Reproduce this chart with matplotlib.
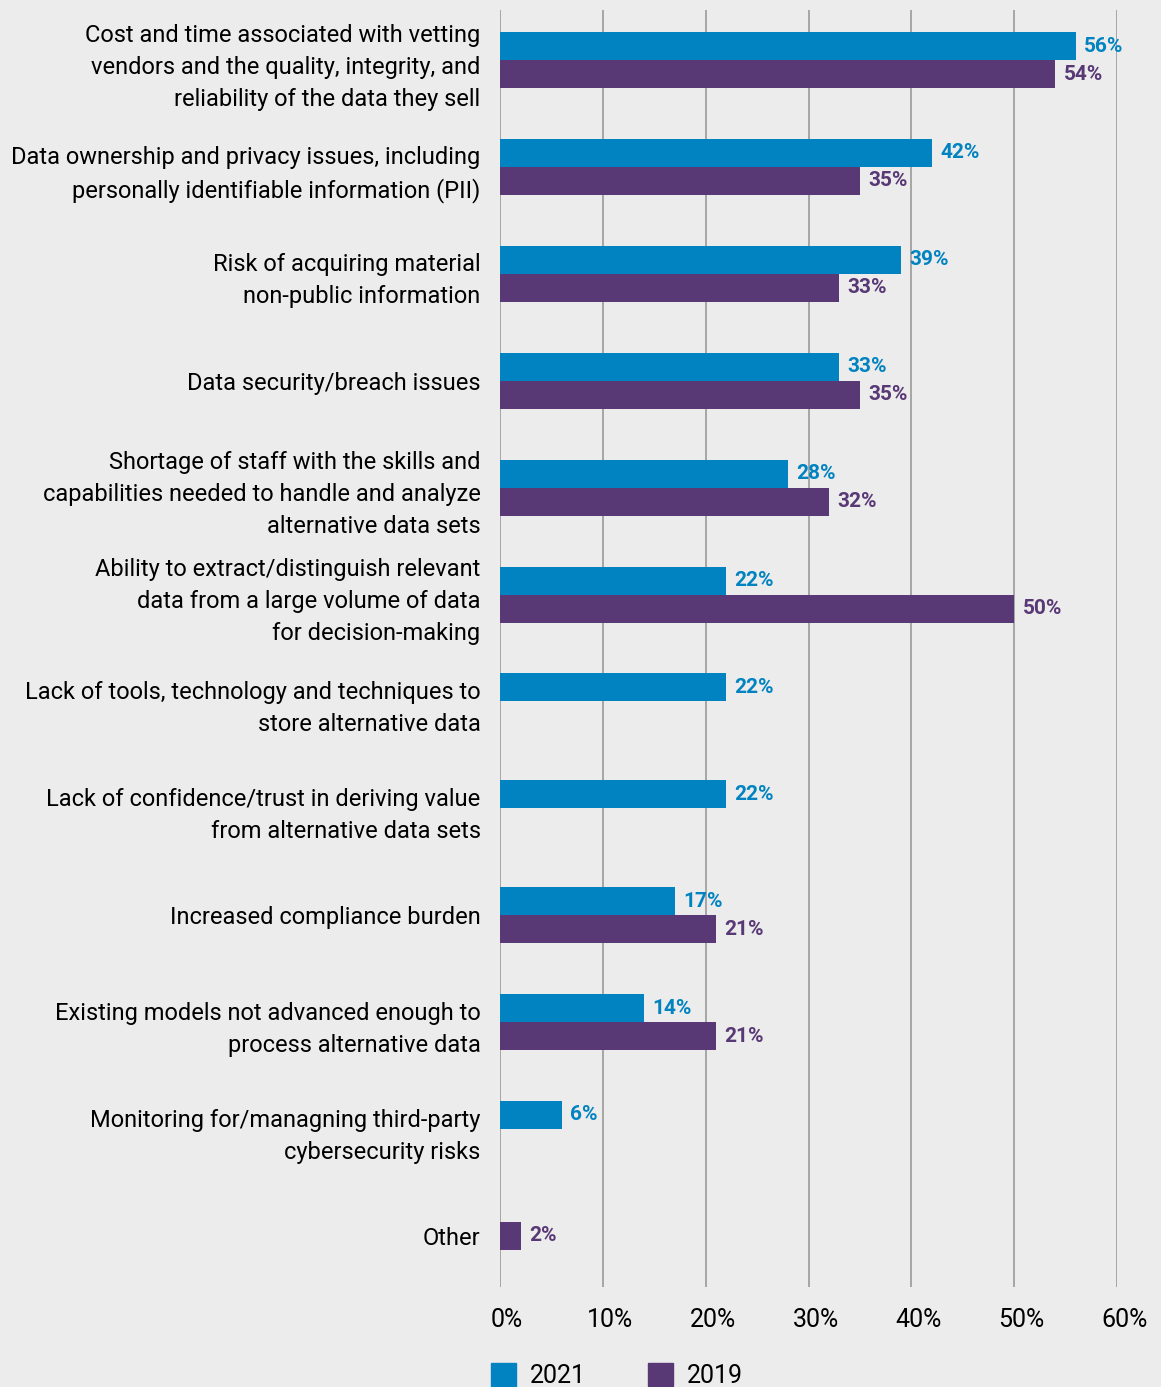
import numpy as np
import matplotlib.pyplot as plt
import matplotlib.transforms as mtransforms
from matplotlib.patches import Patch

# 데이터
categories = [
    'Cost and time associated with vetting\nvendors and the quality, integrity, and\nreliability of the data they sell',
    'Data ownership and privacy issues, including\npersonally identifiable information (PII)',
    'Risk of acquiring material\nnon-public information',
    'Data security/breach issues',
    'Shortage of staff with the skills and\ncapabilities needed to handle and analyze\nalternative data sets',
    'Ability to extract/distinguish relevant\ndata from a large volume of data\nfor decision-making',
    'Lack of tools, technology and techniques to\nstore alternative data',
    'Lack of confidence/trust in deriving value\nfrom alternative data sets',
    'Increased compliance burden',
    'Existing models not advanced enough to\nprocess alternative data',
    'Monitoring for/managning third-party\ncybersecurity risks',
    'Other',
]
vals_2021 = np.array([56, 42, 39, 33, 28, 22, 22, 22, 17, 14, 6, np.nan])
vals_2019 = np.array([54, 35, 33, 35, 32, 50, np.nan, np.nan, 21, 21, np.nan, 2])
xticks = [0, 10, 20, 30, 40, 50, 60]

c21 = '#0083c0'
c19 = '#583875'
bg = '#ececec'

plt.rcParams['font.family'] = ['Roboto', 'DejaVu Sans']

fig = plt.figure(figsize=(11.61, 13.87), dpi=100, facecolor=bg)
ax = fig.add_axes([0.4307, 0.0721, 0.5315, 0.9207])
ax.set_facecolor(bg)

y = np.arange(len(categories))
h = 0.262
# 2021 값이 없으면 2019 막대는 가운데 정렬
off19 = np.where(np.isnan(vals_2021), 0, h / 2)
y21 = y - h / 2
y19 = y + off19
ax.barh(y21, vals_2021, height=h, color=c21, label='2021', zorder=3)
ax.barh(y19, vals_2019, height=h, color=c19, label='2019', zorder=3)

# 값 라벨
for yy, v in zip(y21, vals_2021):
    if not np.isnan(v):
        ax.text(v + 0.8, yy, f'{v:.0f}%', color=c21, fontsize=15, fontweight='bold',
                va='center', ha='left', zorder=4)
for yy, v in zip(y19, vals_2019):
    if not np.isnan(v):
        ax.text(v + 0.8, yy, f'{v:.0f}%', color=c19, fontsize=15, fontweight='bold',
                va='center', ha='left', zorder=4)

ax.set_xlim(0, 60)
ax.set_ylim(11.478, -0.468)
ax.set_xticks(xticks)
ax.set_xticklabels([f'{t}%' for t in xticks], fontsize=18)
ax.set_yticks(y)
ax.set_yticklabels(categories, fontsize=17, linespacing=1.5)
ax.tick_params(axis='both', length=0)
ax.tick_params(axis='x', pad=15)
ax.tick_params(axis='y', pad=14)
ax.grid(axis='x', color='#a0a0a0', linewidth=1.3, zorder=0)
for s in ax.spines.values():
    s.set_visible(False)

# x 라벨 약간 오른쪽으로
shift = mtransforms.ScaledTranslation(7 / 100, 0, fig.dpi_scale_trans)
for lab in ax.get_xticklabels():
    lab.set_transform(lab.get_transform() + shift)

fig.legend(handles=[Patch(color=c21, label='2021'), Patch(color=c19, label='2019')],
           loc='upper left', bbox_to_anchor=(0.423, 0.017), ncol=2, frameon=False,
           fontsize=18, handlelength=1.0, handleheight=1.0, columnspacing=2.5,
           handletextpad=0.55, borderaxespad=0, borderpad=0)

fig.savefig('out.png', dpi=100, facecolor=bg)
